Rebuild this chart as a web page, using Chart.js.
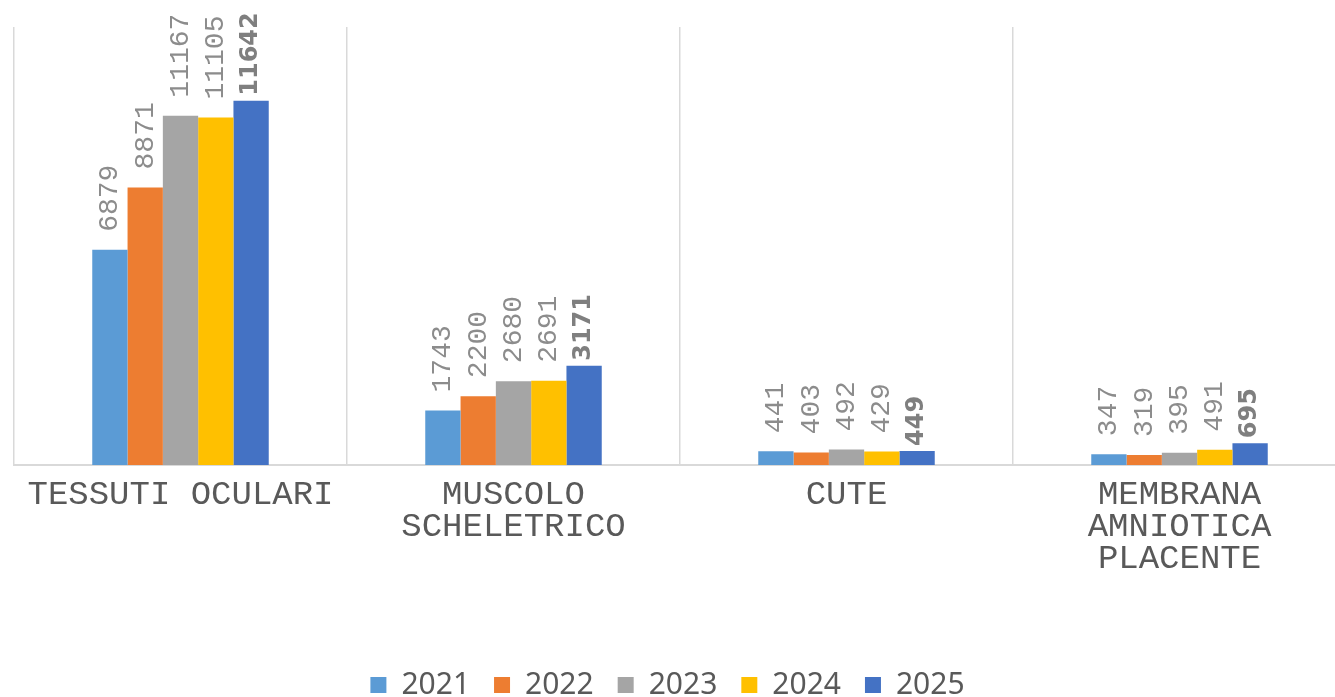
<!DOCTYPE html>
<html lang="it">
<head>
<meta charset="UTF-8">
<title>Tessuti per anno</title>
<script src="https://cdn.jsdelivr.net/npm/chart.js"></script>
<style>
  body { margin: 0; background: #fff; overflow: hidden; width: 1335px; height: 697px; }
  #wrap { width: 1360px; height: 710px; position: relative; }
</style>
</head>
<body>
<div id="wrap"><canvas id="chart"></canvas></div>
<script>
// categories and series values
const categories = [['TESSUTI OCULARI'], ['MUSCOLO', 'SCHELETRICO'], ['CUTE'], ['MEMBRANA', 'AMNIOTICA', 'PLACENTE']];
const years = ['2021', '2022', '2023', '2024', '2025'];
const v2021 = [6879, 1743, 441, 347];
const v2022 = [8871, 2200, 403, 319];
const v2023 = [11167, 2680, 492, 395];
const v2024 = [11105, 2691, 429, 491];
const v2025 = [11642, 3171, 449, 695];
const colors = ['#5B9BD5', '#ED7D31', '#A5A5A5', '#FFC000', '#4472C4'];

const series = [v2021, v2022, v2023, v2024, v2025];

// vertical value labels above each bar, last year in bold
const barLabels = {
    id: 'barLabels',
    beforeDraw(chart) {
        // legend is centred on the visible window, not on the wider canvas
        chart.legend.left = 0;
        chart.legend.right = 1335;
    },
    afterDatasetsDraw(chart) {
        const ctx = chart.ctx;
        const last = chart.data.datasets.length - 1;
        chart.data.datasets.forEach((ds, i) => {
            const bold = i === last;
            chart.getDatasetMeta(i).data.forEach((bar, j) => {
                ctx.save();
                ctx.translate(bar.x, bar.y - (bold ? 5 : 18));
                ctx.rotate(-Math.PI / 2);
                ctx.font = bold ? 'bold 24px "DejaVu Sans"' : '28px "Liberation Mono"';
                ctx.fillStyle = bold ? '#7f7f7f' : '#8c8c8c';
                ctx.textAlign = 'left';
                ctx.textBaseline = 'middle';
                ctx.fillText(String(ds.data[j]), 0, 0);
                ctx.restore();
            });
        });
    }
};

const ctx = document.getElementById('chart').getContext('2d');
new Chart(ctx, {
    type: 'bar',
    data: {
        labels: categories,
        datasets: years.map((y, i) => ({
            label: y,
            data: series[i],
            backgroundColor: colors[i],
            borderWidth: 0,
            categoryPercentage: 0.53,
            barPercentage: 1.0
        }))
    },
    options: {
        responsive: true,
        maintainAspectRatio: false,
        animation: false,
        layout: { padding: { left: 14, right: 14, top: 27, bottom: 0 } },
        plugins: {
            tooltip: { enabled: false },
            legend: {
                position: 'bottom',
                labels: {
                    boxWidth: 16,
                    boxHeight: 16,
                    padding: 24,
                    color: '#595959',
                    font: { family: '"Noto Sans"', size: 30 }
                }
            }
        },
        scales: {
            x: {
                grid: { color: '#d9d9d9', lineWidth: 1.5, drawTicks: false },
                border: { display: true, color: '#d9d9d9', width: 2 },
                ticks: {
                    color: '#595959',
                    padding: 14,
                    maxRotation: 0,
                    autoSkip: false,
                    font: { family: '"Liberation Mono"', size: 34, lineHeight: '32px' }
                },
                afterFit(scale) { scale.height = 181; }
            },
            y: {
                display: false,
                min: 0,
                max: 14000
            }
        }
    },
    plugins: [barLabels]
});
</script>
</body>
</html>
